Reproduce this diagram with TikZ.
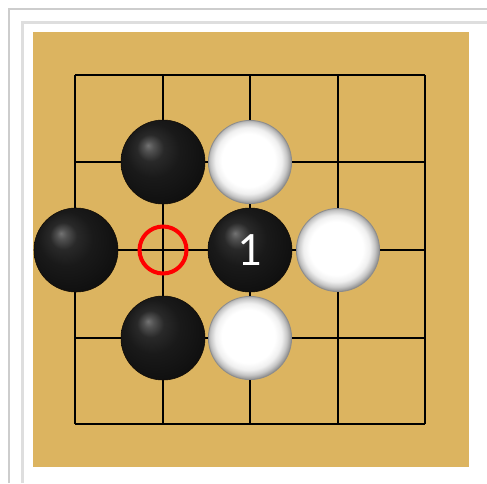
\documentclass[tikz,border=0pt]{standalone}
\usepackage{fontspec}
\newfontfamily\stonefont{Carlito}
\definecolor{board}{RGB}{220,180,96}
\definecolor{framegray}{RGB}{205,205,205}
\definecolor{bandgray}{RGB}{222,222,222}
\pgfdeclareradialshading{blackstone}{\pgfpoint{-9bp}{10bp}}{%
  color(0bp)=(black!55); color(3bp)=(black!68); color(8bp)=(black!84);
  color(16bp)=(black!90); color(30bp)=(black!94); color(40bp)=(black!97); color(50bp)=(black)}
\pgfdeclareradialshading{whitestone}{\pgfpoint{-1.5bp}{1.5bp}}{%
  color(0bp)=(white); color(16bp)=(white); color(20bp)=(black!6);
  color(23bp)=(black!22); color(26bp)=(black!48); color(50bp)=(black!50)}
\tikzset{
  gridline/.style={line width=1.3pt, black},
  blackstonestyle/.style={circle, minimum size=42pt, inner sep=0pt, shading=blackstone, draw=black!90!brown, line width=0.3pt},
  whitestonestyle/.style={circle, minimum size=41.6pt, inner sep=0pt, shading=whitestone, draw=black!45, line width=0.4pt},
  marker/.style={circle, minimum size=23.5pt, inner sep=0pt, draw=red, line width=2pt}
}
\begin{document}
\begin{tikzpicture}[x=0.5pt,y=-0.5pt]
\useasboundingbox (0,0) rectangle (487,483);
\fill[white] (0,0) rectangle (487,483);
% frame lines
\draw[framegray, line width=0.6pt] (9,483) -- (9,9) -- (487,9);
\draw[bandgray, line width=1.5pt] (22,483) -- (22,22) -- (487,22);
% board
\fill[board] (33,32) rectangle (469,467);
% grid
\foreach \v in {75,163,250,338,425} {
  \draw[gridline] (\v,75) -- (\v,424);
}
\foreach \v in {75,162,250,338,424} {
  \draw[gridline] (75,\v) -- (425,\v);
}
% marker
\node[marker] (m) at (163,250) {};
% stones
\node[blackstonestyle] (b1) at (163,162) {};
\node[whitestonestyle] (w1) at (250,162) {};
\node[blackstonestyle] (b2) at (76,250) {};
\node[blackstonestyle] (b3) at (250,250) {\stonefont\fontsize{24}{24}\selectfont\color{white}1};
\node[whitestonestyle] (w2) at (338,250) {};
\node[blackstonestyle] (b4) at (163,338) {};
\node[whitestonestyle] (w3) at (250,338) {};
\end{tikzpicture}
\end{document}
